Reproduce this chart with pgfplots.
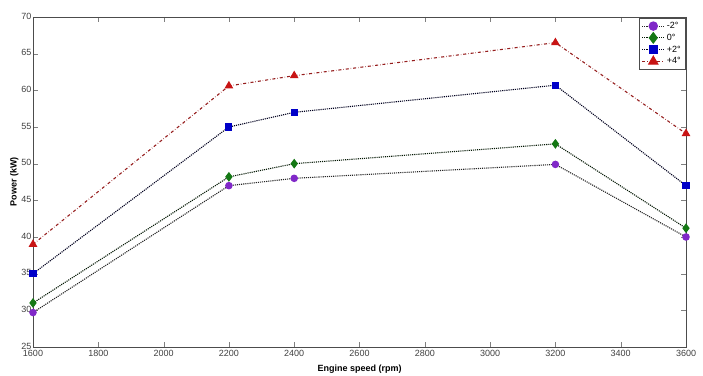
\documentclass[border=0pt]{standalone}
\usepackage{pgfplots}
\pgfplotsset{compat=1.18}
\usepackage{fontspec}
\setmainfont{Liberation Sans}
\definecolor{cpurple}{RGB}{128,40,200}
\definecolor{cgreen}{RGB}{20,120,20}
\definecolor{cblue}{RGB}{0,0,200}
\definecolor{cred}{RGB}{200,20,20}
\definecolor{cdred}{RGB}{150,30,30}
\begin{document}
\begin{tikzpicture}
\begin{axis}[
  scale only axis,
  width=653pt, height=330pt,
  xmin=1600, xmax=3600, ymin=25, ymax=70,
  xtick={1600,1800,...,3600},
  ytick={25,30,...,70},
  tick pos=both,
  tick align=inside,
  major tick length=5pt,
  /pgf/number format/assume math mode=true,
  /pgf/number format/1000 sep={},
  tick label style={font=\fontsize{9}{10}\selectfont, color=black!75},
  xticklabel style={yshift=0pt},
  yticklabel style={xshift=2pt, yshift=1pt},
  xlabel={\textbf{Engine speed (rpm)}},
  ylabel={\textbf{Power (kW)}},
  label style={font=\fontsize{9}{10}\selectfont},
  xlabel style={yshift=-1pt},
  ylabel style={yshift=-4pt},
  axis line style={black!70, line width=0.6pt},
  legend style={at={(rel axis cs:1,1)}, anchor=north east,
    font=\fontsize{9}{10}\selectfont, draw=black!70, inner sep=2pt,
    row sep=0pt, xshift=-1pt, yshift=-1pt},
  legend image post style={scale=1.3},
  legend cell align=left,
]
\addplot[black!85, densely dotted, line width=1.1pt, mark=*, mark size=3.2pt,
  mark options={solid, fill=cpurple, draw=cpurple}]
  coordinates {(1600,29.7) (2200,47.0) (2400,48.0) (3200,49.9) (3600,40.0)};
\addlegendentry{-2°}
\addplot[black!80!cgreen, densely dotted, line width=1.1pt, mark=diamond*, mark size=4pt,
  mark options={solid, fill=cgreen, draw=cgreen}]
  coordinates {(1600,31.0) (2200,48.2) (2400,50.0) (3200,52.7) (3600,41.2)};
\addlegendentry{0°}
\addplot[black!85!cblue, densely dotted, line width=1.1pt, mark=square*, mark size=3pt,
  mark options={solid, fill=cblue, draw=cblue}]
  coordinates {(1600,35.0) (2200,55.0) (2400,57.0) (3200,60.7) (3600,47.0)};
\addlegendentry{+2°}
\addplot[cdred, dashdotted, line width=1.1pt, mark=triangle*, mark size=4pt,
  mark options={solid, fill=cred, draw=cred}]
  coordinates {(1600,39.0) (2200,60.6) (2400,62.0) (3200,66.5) (3600,54.1)};
\addlegendentry{+4°}
\end{axis}
\pgfresetboundingbox
\path[use as bounding box] ([xshift=-33pt,yshift=-29pt]current axis.south west) rectangle ([xshift=17pt,yshift=17pt]current axis.north east);
\end{tikzpicture}
\end{document}
